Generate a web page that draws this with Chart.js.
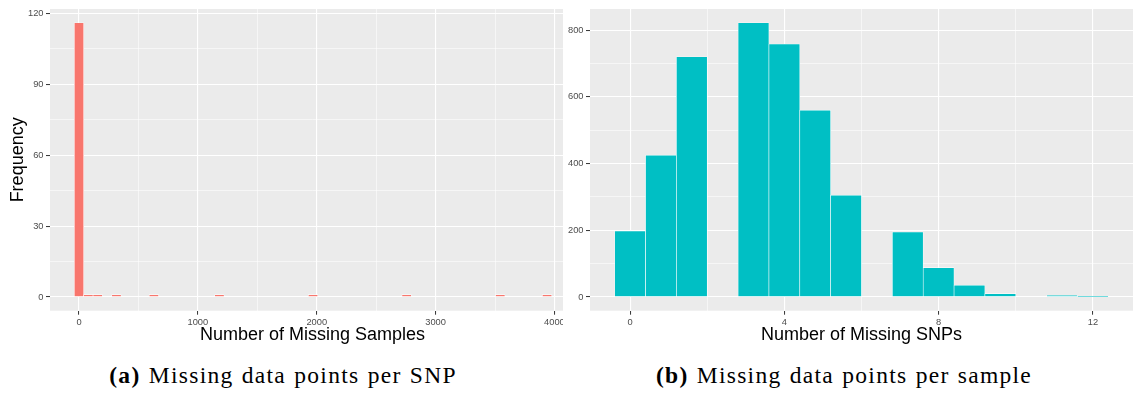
<!DOCTYPE html>
<html>
<head>
<meta charset="utf-8">
<script src="https://cdn.jsdelivr.net/npm/chart.js@4.4.1/dist/chart.umd.min.js"></script>
<style>
  html, body { margin: 0; padding: 0; background: #ffffff; }
  body { width: 1133px; height: 394px; position: relative; overflow: hidden; }
  .panel { position: absolute; top: 0; height: 350px; overflow: hidden; }
  #wrapA { left: 0; width: 563px; }
  #wrapB { left: 562px; width: 571px; }
  .caption {
    position: absolute; top: 362px; white-space: nowrap;
    font-family: 'Liberation Serif', 'Times New Roman', serif;
    font-size: 23.5px; letter-spacing: 1.3px; word-spacing: 1px;
    color: #000; transform: translateX(-50%);
  }
  .caption b { font-weight: bold; }
</style>
</head>
<body>
<div class="panel" id="wrapA"><canvas id="snpChart" width="580" height="350"></canvas></div>
<div class="panel" id="wrapB"><canvas id="sampleChart" width="571" height="350"></canvas></div>
<div class="caption" style="left:283px"><b>(a)</b> Missing data points per SNP</div>
<div class="caption" style="left:844px"><b>(b)</b> Missing data points per sample</div>

<script>
// Missing samples per SNP: histogram bin centres and counts
const snpBinCentres = [0, 78.76, 157.52, 315.04, 630.08, 1181.4, 1969.0, 2756.6, 3544.2, 3938.0];
const snpCounts     = [116, 1, 1, 1, 1, 1, 1, 1, 1, 1];
const snpXTicks     = [0, 500, 1000, 1500, 2000, 2500, 3000, 3500, 4000];
const snpXLabels    = [0, 1000, 2000, 3000, 4000];
const snpYTicks     = [0, 15, 30, 45, 60, 75, 90, 105, 120];
const snpYLabels    = [0, 30, 60, 90, 120];

// Missing SNPs per sample: histogram bin centres and counts
const sampleBinCentres = [0, 0.8, 1.6, 3.2, 4.0, 4.8, 5.6, 7.2, 8.0, 8.8, 9.6, 11.2, 12.0];
const sampleCounts     = [198, 425, 720, 822, 758, 560, 305, 195, 88, 35, 10, 5, 2];
const sampleXTicks     = [0, 2, 4, 6, 8, 10, 12];
const sampleXLabels    = [0, 4, 8, 12];
const sampleYTicks     = [0, 100, 200, 300, 400, 500, 600, 700, 800];
const sampleYLabels    = [0, 200, 400, 600, 800];

const SANS = "'Liberation Sans', Arial, Helvetica, sans-serif";

// grey ggplot-style panel behind the grid
const panelBackground = {
  id: 'panelBackground',
  beforeDraw(chart) {
    const { ctx, chartArea: a } = chart;
    ctx.save();
    ctx.fillStyle = '#EBEBEB';
    ctx.fillRect(a.left, a.top, a.right - a.left, a.bottom - a.top);
    ctx.restore();
  }
};

function axis(tickValues, labelValues, min, max, fitSize, horizontal, title) {
  const isMajor = v => labelValues.includes(v);
  const cfg = {
    type: 'linear', min, max, offset: false,
    afterBuildTicks: s => { s.ticks = tickValues.map(v => ({ value: v })); },
    afterFit: s => { if (horizontal) s.height = fitSize; else s.width = fitSize; },
    border: { display: false },
    grid: {
      offset: false,
      color: '#FFFFFF',
      lineWidth: c => (c.tick && isMajor(c.tick.value)) ? 1.1 : 0.55,
      drawTicks: true, tickLength: 4, tickWidth: 1,
      tickColor: c => (c.tick && isMajor(c.tick.value)) ? '#333333' : 'rgba(0,0,0,0)'
    },
    ticks: {
      autoSkip: false, maxRotation: 0, minRotation: 0,
      padding: horizontal ? 2 : 2.5,
      color: '#4D4D4D',
      font: { family: SANS, size: 9.3 },
      callback: v => isMajor(v) ? String(v) : ''
    },
    title: { display: false }
  };
  if (title) {
    cfg.title = {
      display: true, text: title, color: '#000000',
      font: { family: SANS, size: 18 },
      padding: horizontal ? { top: 0, bottom: 4 } : { top: 7, bottom: 0 }
    };
  }
  return cfg;
}

function histogram(id, centres, counts, colour, opts) {
  return new Chart(document.getElementById(id), {
    type: 'bar',
    data: {
      datasets: [{
        data: centres.map((x, i) => ({ x, y: counts[i] })),
        backgroundColor: colour,
        borderColor: '#FFFFFF',
        borderWidth: 0.6,
        borderSkipped: false,
        barPercentage: 1,
        categoryPercentage: 1
      }]
    },
    options: {
      responsive: false,
      animation: false,
      devicePixelRatio: 1,
      layout: { padding: { left: 0, top: 9, right: opts.padRight, bottom: 0 } },
      plugins: { legend: { display: false }, tooltip: { enabled: false } },
      scales: {
        x: axis(opts.xTicks, opts.xLabels, opts.xMin, opts.xMax, 39.3, true, opts.xTitle),
        y: axis(opts.yTicks, opts.yLabels, opts.yMin, opts.yMax, opts.yWidth, false, opts.yTitle)
      }
    },
    plugins: [panelBackground]
  });
}

histogram('snpChart', snpBinCentres, snpCounts, '#F8766D', {
  xTicks: snpXTicks, xLabels: snpXLabels, xMin: -244, xMax: 4173,
  yTicks: snpYTicks, yLabels: snpYLabels, yMin: -5.8, yMax: 121.8,
  yWidth: 50, padRight: 5,
  xTitle: 'Number of Missing Samples', yTitle: 'Frequency'
});

histogram('sampleChart', sampleBinCentres, sampleCounts, '#00BFC4', {
  xTicks: sampleXTicks, xLabels: sampleXLabels, xMin: -1.04, xMax: 13.04,
  yTicks: sampleYTicks, yLabels: sampleYLabels, yMin: -41.1, yMax: 863.1,
  yWidth: 28, padRight: 0,
  xTitle: 'Number of Missing SNPs', yTitle: null
});
</script>
</body>
</html>
